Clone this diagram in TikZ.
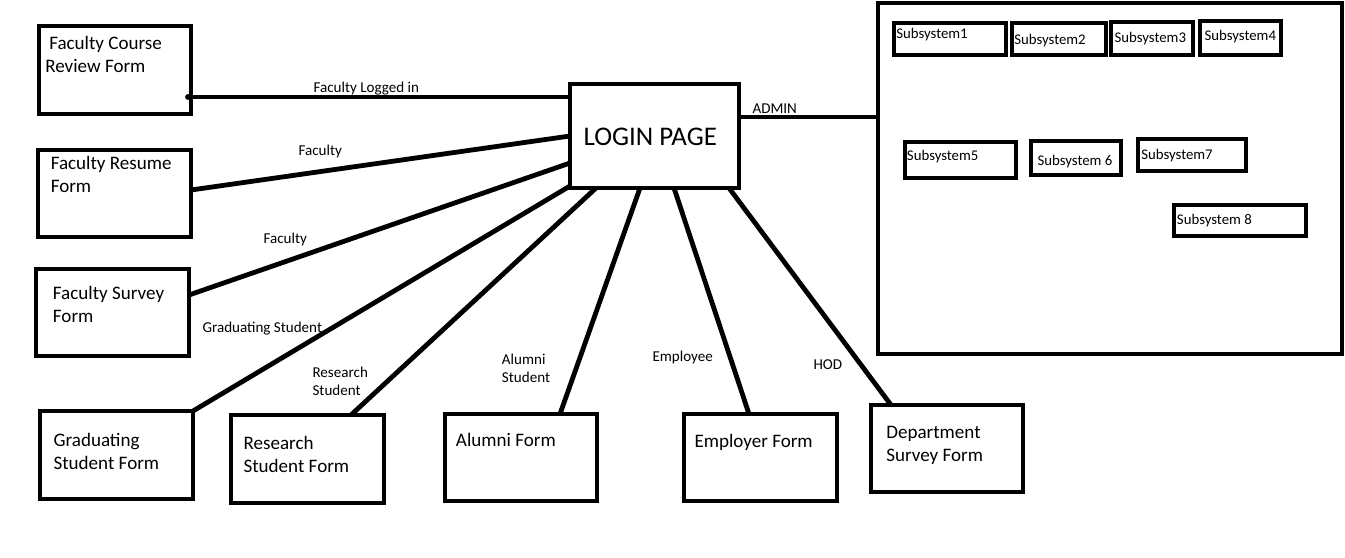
\documentclass[tikz,border=0pt]{standalone}
\usepackage{fontspec}
\setmainfont{Carlito}
\usetikzlibrary{fit,calc}
% two stacked lines whose baseline is that of the first line
\newcommand\twolines[2]{\begin{tabular}[t]{@{}l@{}}#1\\#2\end{tabular}}
\begin{document}
\begin{tikzpicture}[x=0.75pt,y=-0.75pt,
  box/.style={draw, rectangle, line width=3.4pt, inner sep=0pt, outer sep=0pt},
  subbox/.style={draw, rectangle, line width=3.5pt, inner sep=0pt, outer sep=0pt},
  link/.style={line width=3.6pt},
  formtext/.style={anchor=base west, inner sep=0pt, font=\fontsize{14.3}{17.25}\selectfont},
  edgetext/.style={anchor=base west, inner sep=0pt, font=\fontsize{11.3}{13.5}\selectfont},
  subtext/.style={anchor=base west, inner sep=0pt, font=\fontsize{11.1}{13.5}\selectfont},
]
\useasboundingbox (0,0) rectangle (1345,557);

% ---- form boxes ----
\node[box, fit={(39,26) (191,114)}]   (crf)   {};
\node[box, fit={(38,150) (191,237)}]  (rf)    {};
\node[box, fit={(36,269) (189,356)}]  (sf)    {};
\node[box, fit={(40,411) (193,499)}]  (gsf)   {};
\node[box, fit={(231,415) (384,503)}] (rsf)   {};
\node[box, fit={(445,414) (597,501)}] (af)    {};
\node[box, fit={(684,414) (837,501)}] (ef)    {};
\node[box, fit={(871,405) (1023,492)}] (dsf)  {};
\node[box, fit={(570,84) (739,188)}]  (login) {};
\node[box, fit={(878,3) (1342,354)}]  (admin) {};

% ---- form captions ----
\node[formtext] (crf-t) at (45,49.3)  {\twolines{\hspace*{3pt}Faculty Course}{Review Form}};
\node[formtext] (rf-t)  at (50.5,169) {\twolines{Faculty Resume}{Form}};
\node[formtext] (sf-t)  at (52.7,299.3) {\twolines{Faculty Survey}{Form}};
\node[formtext] (gsf-t) at (53.3,446.7) {\twolines{Graduating}{Student Form}};
\node[formtext] (rsf-t) at (243.3,449) {\twolines{Research}{Student Form}};
\node[formtext] (af-t)  at (455.7,446) {Alumni Form};
\node[formtext] (ef-t)  at (694.3,447.3) {Employer Form};
\node[formtext] (dsf-t) at (886,438.3) {\twolines{Department}{Survey Form}};
\node[anchor=base west, inner sep=0pt, font=\fontsize{20.2}{24}\selectfont] (login-t) at (583.3,145) {LOGIN PAGE};

% ---- subsystems ----
\node[subbox, fit={(894,23) (1006,55)}]   (s1) {};
\node[subbox, fit={(1012,23) (1106,55)}]  (s2) {};
\node[subbox, fit={(1111,22) (1193,55)}]  (s3) {};
\node[subbox, fit={(1200,21) (1281,55)}]  (s4) {};
\node[subbox, fit={(905,142) (1016,178)}] (s5) {};
\node[subbox, fit={(1031,141) (1121,175)}] (s6) {};
\node[subbox, fit={(1138,139) (1246,171)}] (s7) {};
\node[subbox, fit={(1174,205) (1306,236)}] (s8) {};
\node[subtext] (s1-t) at (896,38.3)    {Subsystem1};
\node[subtext] (s2-t) at (1014,44.3)   {Subsystem2};
\node[subtext] (s3-t) at (1114.3,42.3) {Subsystem3};
\node[subtext] (s4-t) at (1204.3,40.3) {Subsystem4};
\node[subtext] (s5-t) at (906.7,160.3) {Subsystem5};
\node[subtext] (s6-t) at (1037.3,165.7) {Subsystem 6};
\node[subtext] (s7-t) at (1141,159.3)  {Subsystem7};
\node[subtext] (s8-t) at (1176.7,224.3) {Subsystem 8};

% ---- connectors ----
\draw[link] ($(crf.north east)+(-3,71)$) -- ($(login.north west)+(0,13)$);
\draw[link] ($(rf.north east)+(0,40)$)  -- (login.west);
\draw[link] ($(sf.north east)+(0,26)$)  -- ($(login.north west)+(0,79)$);
\draw[link] (gsf.north east)            -- ($(login.south west)+(0,-2)$);
\draw[link] ($(rsf.north west)+(120,0)$) -- ($(login.south west)+(26,0)$);
\draw[link] ($(af.north west)+(115,0)$)  -- ($(login.south west)+(70,0)$);
\draw[link] ($(login.south west)+(104,0)$) -- ($(ef.north west)+(65,0)$);
\draw[link] ($(login.south west)+(159,0)$) -- ($(dsf.north west)+(20,0)$);
\draw[link] ($(login.north east)+(0,33)$)  -- ($(admin.north west)+(0,114)$);
\fill (crf.east |- 0,97) ++(-3,0) circle (2.2pt);

% ---- connector labels ----
\node[edgetext] (l-log)  at (313.3,92.7)  {Faculty Logged in};
\node[edgetext] (l-fac1) at (298.3,155.3) {Faculty};
\node[edgetext] (l-fac2) at (263.3,243)   {Faculty};
\node[edgetext] (l-grad) at (202.3,332)   {Graduating Student};
\node[edgetext] (l-res)  at (312.3,377.7) {\twolines{Research}{Student}};
\node[edgetext] (l-alum) at (501.7,364)   {\twolines{Alumni}{Student}};
\node[edgetext] (l-emp)  at (652.3,361)   {Employee};
\node[edgetext] (l-hod)  at (813.3,369)   {HOD};
\node[edgetext] (l-adm)  at (752.3,113.3) {ADMIN};
\end{tikzpicture}
\end{document}
